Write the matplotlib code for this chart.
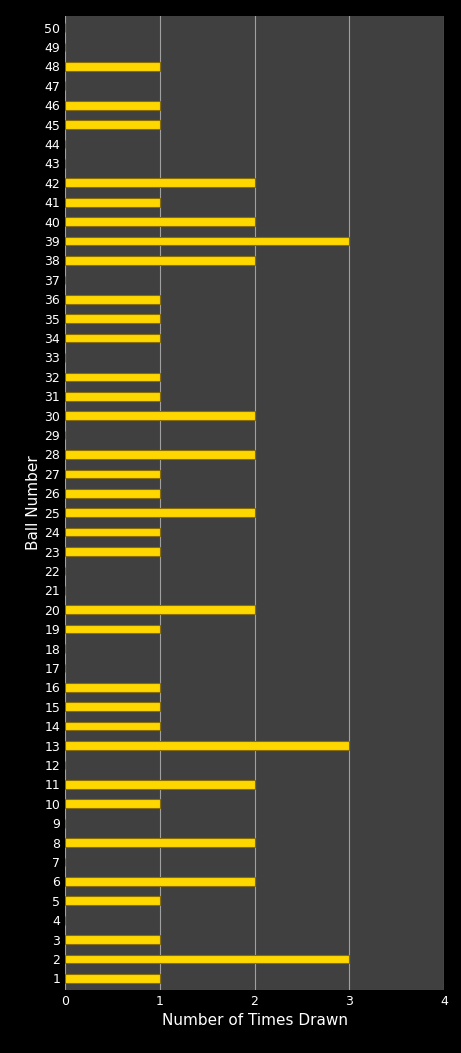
import matplotlib
matplotlib.use("Agg")
import matplotlib.pyplot as plt

balls = list(range(1, 51))
counts = [1,3,1,0,1,2,0,2,0,1,2,0,3,1,1,1,0,0,1,2,0,0,1,1,2,1,1,2,0,2,
          1,1,0,1,1,1,0,2,3,2,1,2,0,0,1,1,0,1,0,0]

fig = plt.figure(figsize=(4.61, 10.53), dpi=100, facecolor="black")
ax = fig.add_axes([65/461, 1-990/1053, (444-65)/461, (990-16)/1053])
ax.set_facecolor("#404040")
ax.barh(balls, counts, height=0.45, color="#FFD700", edgecolor="#8a6d00", linewidth=0.8, zorder=3)
ax.set_xlim(0, 4)
ax.set_ylim(0.4, 50.6)
ax.set_xticks([0,1,2,3,4])
ax.set_yticks(balls)
ax.tick_params(colors="white", labelsize=9, length=0)
ax.grid(axis="x", color="#a0a0a0", linewidth=0.8, zorder=0)
for s in ax.spines.values():
    s.set_visible(False)
ax.set_xlabel("Number of Times Drawn", color="white", fontsize=11)
ax.set_ylabel("Ball Number", color="white", fontsize=11, labelpad=2)
fig.savefig("out.png", facecolor="black")
